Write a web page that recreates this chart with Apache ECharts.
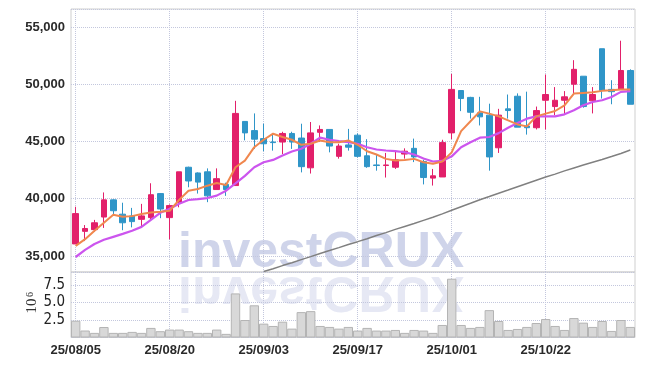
<!DOCTYPE html>
<html><head><meta charset="utf-8">
<script src="https://cdn.jsdelivr.net/npm/echarts@6/dist/echarts.min.js"></script>
<style>html,body{margin:0;padding:0;background:#fff}#c{width:645px;height:366px}</style>
</head><body><div id="c"></div>
<script>
const dates = ['25/08/05','25/08/06','25/08/07','25/08/08','25/08/11','25/08/12','25/08/13','25/08/14','25/08/18','25/08/19','25/08/20','25/08/21','25/08/22','25/08/25','25/08/26','25/08/27','25/08/28','25/08/29','25/09/01','25/09/02','25/09/03','25/09/04','25/09/05','25/09/08','25/09/09','25/09/10','25/09/11','25/09/12','25/09/15','25/09/16','25/09/17','25/09/18','25/09/19','25/09/22','25/09/23','25/09/24','25/09/25','25/09/26','25/09/29','25/09/30','25/10/01','25/10/02','25/10/10','25/10/13','25/10/14','25/10/15','25/10/16','25/10/17','25/10/20','25/10/21','25/10/22','25/10/23','25/10/24','25/10/27','25/10/28','25/10/29','25/10/30','25/10/31','25/11/03','25/11/04'];
const open  = [36050,37150,37300,38400,39900,38650,38500,38200,38350,40450,38350,39700,42750,42250,42350,40800,41250,41150,46750,45950,45250,44950,44950,45700,45300,42700,45800,46050,43700,44700,45550,43750,42950,42900,42750,43900,44400,43250,41800,41900,45750,49450,48850,47500,47300,44450,47850,48950,46350,46200,48600,48050,48600,50000,50700,48550,53100,49550,49550,51200];
const close = [38700,37400,37900,39900,38950,37900,38000,38500,40350,39100,39400,42350,41550,41450,40250,41750,40800,47450,45750,45200,44800,44900,45700,44950,42800,45750,46050,44600,44600,44500,43700,42800,42900,42950,43400,44150,43650,41850,42000,44900,49550,48750,47550,47150,43650,47300,47700,46250,46200,47700,49100,48600,48900,51300,48050,49100,49450,49350,51200,48250];
const low   = [36050,36300,37100,37450,38500,37250,37500,37550,38150,38300,36450,39250,41000,40450,39700,40800,40250,41150,45100,44350,44150,44200,43900,44350,42300,42200,44950,44050,43500,44200,43600,42700,42450,41850,42600,43500,43200,41250,41150,41900,45200,47650,47000,46400,42450,44000,47000,46250,45600,46050,46050,47300,47350,49200,47950,47450,48750,48250,49550,48250];
const high  = [39300,37700,38150,40550,39950,39650,39200,39550,41350,40500,39500,42350,42800,42300,42650,42650,41400,48550,46750,47450,46550,45700,45850,45850,46550,46700,46400,46050,44800,46100,45700,45200,43850,44000,44250,44400,45250,43400,42600,45150,50900,49450,48900,48900,48300,47850,49100,49200,49350,48050,50850,49750,49400,52100,50700,49750,53100,50350,53800,51300];
const ma5   = [35880,36470,37200,37900,38600,38420,38480,38660,38800,38860,38950,39900,40700,40850,41140,41380,41200,42750,43330,44500,45150,45680,45390,45150,44710,44800,45090,44940,44940,45090,44710,44150,43860,43480,43330,43390,43480,43190,43050,43250,44050,45900,46770,47630,47430,47190,46840,46490,46320,47190,47430,47660,48160,49180,49240,49300,49420,49470,49530,49530];
const ma20  = [34910,35530,36050,36410,36670,36930,37200,37540,38160,38770,39120,39560,39890,39970,40060,40270,40700,41340,42000,42750,43190,43390,43770,44120,44360,44800,45330,45150,45030,44940,44800,44500,44300,44210,44150,44060,43860,43510,43250,43300,43700,44500,44940,45330,45390,45730,46200,46610,46990,47190,47190,47190,47370,47720,48160,48450,48600,48890,49330,49390];
const ma60  = [null,null,null,null,null,null,null,null,null,null,null,null,null,null,null,null,null,null,null,null,33640,33890,34160,34410,34680,34940,35220,35470,35730,36000,36250,36510,36790,37040,37320,37580,37830,38110,38380,38680,38990,39300,39600,39910,40190,40480,40760,41050,41330,41610,41890,42150,42430,42690,42940,43180,43420,43680,43950,44260];
const volume = [2.4,1.0,0.66,1.5,0.66,0.66,0.8,0.66,1.37,0.9,1.13,1.13,0.9,0.66,0.66,1.13,0.52,6.3,2.5,4.6,1.98,1.65,2.26,1.27,3.63,3.77,1.65,1.51,1.27,1.51,0.99,1.37,0.99,0.99,1.08,0.66,1.08,0.99,0.66,1.79,8.4,1.79,1.37,1.51,3.91,2.36,1.08,1.22,1.51,2.07,2.64,1.65,1.08,2.78,2.12,1.51,2.36,0.94,2.5,1.51];

const FONT = "'Liberation Sans',Arial,sans-serif";
const labelStyle = {color:'#2a2a2a', fontFamily:FONT, fontSize:13, fontWeight:'bold'};
const VFONT = "'Liberation Sans Narrow','DejaVu Sans Condensed',sans-serif";
const gridLine = {type:'dotted', color:'#c3c7dd', width:1};
const candles = dates.map((d,i)=>[open[i],close[i],low[i],high[i]]);

const chart = echarts.init(document.getElementById('c'), null, {renderer:'canvas'});
chart.setOption({
  animation:false,
  backgroundColor:'#fff',
  grid:[
    {left:71, right:10, top:9, height:263, show:true, borderColor:'#cfcfcf', borderWidth:1, backgroundColor:'transparent'},
    {left:71, right:10, top:272, height:65.5, show:true, borderColor:'#cfcfcf', borderWidth:1, backgroundColor:'transparent'},
    {left:71, right:10, top:337.5, height:1, show:false}
  ],
  xAxis:[
    {type:'category', gridIndex:0, data:dates, boundaryGap:true,
     axisLine:{show:false}, axisTick:{show:false}, axisLabel:{show:false},
     splitLine:{show:true, interval:9, alignWithLabel:true, lineStyle:gridLine}},
    {type:'category', gridIndex:1, data:dates, boundaryGap:true,
     axisLine:{show:false}, axisTick:{show:false}, axisLabel:{show:false},
     splitLine:{show:true, interval:9, alignWithLabel:true, lineStyle:gridLine}},
    {type:'category', gridIndex:2, data:dates, boundaryGap:true, position:'bottom',
     axisLine:{show:false}, axisTick:{show:false}, splitLine:{show:false},
     axisLabel:Object.assign({interval:9, margin:5}, labelStyle)}
  ],
  yAxis:[
    {type:'value', gridIndex:0, min:33600, max:56570, scale:true,
     axisLine:{show:false}, axisTick:{show:false},
     axisLabel:Object.assign({showMinLabel:false, showMaxLabel:false, margin:6}, labelStyle),
     splitLine:{show:true, lineStyle:gridLine}},
    {type:'value', gridIndex:1, min:0, max:9.36, interval:2.5,
     axisLine:{show:false}, axisTick:{show:false},
     axisLabel:{showMaxLabel:false, margin:6, color:'#222', fontFamily:VFONT, fontSize:15,
       formatter:v=> v===0 ? '' : v.toFixed(1)},
     splitLine:{show:true, lineStyle:gridLine}},
    {type:'value', gridIndex:2, show:false}
  ],
  graphic:[
    {type:'text', x:178, y:253.5, z:-1, silent:true,
     style:{text:'investCRUX', fill:'rgba(130,142,200,0.38)', font:"bold 50px 'Liberation Sans',Arial,sans-serif", textVerticalAlign:'middle'}},
    {type:'text', x:178, y:272, scaleY:-1, z:-1, silent:true,
     style:{text:'investCRUX', x:0, y:-18.5, fill:'rgba(130,142,200,0.2)', font:"bold 50px 'Liberation Sans',Arial,sans-serif", textVerticalAlign:'middle'}},
    {type:'text', x:32, y:306, rotation:Math.PI/2, silent:true,
     style:{text:'10', fill:'#333', font:"15px 'Liberation Serif','DejaVu Serif',serif", textAlign:'center', textVerticalAlign:'middle'}},
    {type:'text', x:30, y:294.5, rotation:Math.PI/2, silent:true,
     style:{text:'6', fill:'#333', font:"10px 'Liberation Serif','DejaVu Serif',serif", textAlign:'center', textVerticalAlign:'middle'}}
  ],
  series:[
    {type:'candlestick', xAxisIndex:0, yAxisIndex:0, data:candles, barWidth:'66%',
     itemStyle:{color:'#e2206a', color0:'#2f95c8', borderColor:'#e2206a', borderColor0:'#2f95c8', borderWidth:1}},
    {type:'line', xAxisIndex:0, yAxisIndex:0, data:ma60, symbol:'none', connectNulls:false,
     lineStyle:{color:'#808080', width:1.5}, z:3},
    {type:'line', xAxisIndex:0, yAxisIndex:0, data:ma20, symbol:'none',
     lineStyle:{color:'#cc55ee', width:2.2}, z:3},
    {type:'line', xAxisIndex:0, yAxisIndex:0, data:ma5, symbol:'none',
     lineStyle:{color:'#f0874e', width:2}, z:4},
    {type:'bar', xAxisIndex:1, yAxisIndex:1, data:volume, barCategoryGap:'0%',
     itemStyle:{color:'#d8d8d8', borderColor:'#b4b4b4', borderWidth:1}}
  ]
});
</script></body></html>
